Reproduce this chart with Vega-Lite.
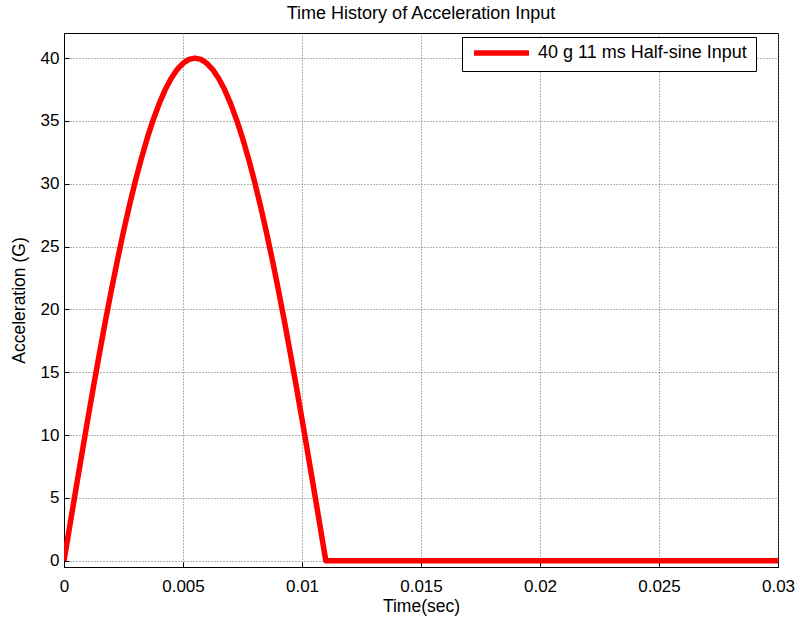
{
  "$schema": "https://vega.github.io/schema/vega-lite/v6.json",
  "width": 714,
  "height": 534,
  "autosize": {"type": "none"},
  "padding": {"left": 64, "top": 33, "right": 22, "bottom": 56},
  "background": "white",
  "title": {"text": "Time History of Acceleration Input", "font": "Liberation Sans", "fontSize": 18, "fontWeight": "normal", "color": "black", "offset": 10},
  "config": {
    "view": {"stroke": "black", "strokeWidth": 1},
    "axis": {"labelFont": "Liberation Sans", "titleFont": "Liberation Sans", "labelFontSize": 17, "titleFontSize": 17.5, "titleFontWeight": "normal", "labelColor": "black", "titleColor": "black", "domainColor": "black", "tickColor": "black", "gridColor": "#666", "gridDash": [1, 2], "gridOpacity": 1, "gridWidth": 1, "tickSize": -5}
  },
  "data": {"values": [
    {"t": 0, "a": 0, "s": "40 g 11 ms Half-sine Input"},
    {"t": 0.00025, "a": 2.855, "s": "40 g 11 ms Half-sine Input"},
    {"t": 0.0005, "a": 5.69, "s": "40 g 11 ms Half-sine Input"},
    {"t": 0.00075, "a": 8.5, "s": "40 g 11 ms Half-sine Input"},
    {"t": 0.001, "a": 11.27, "s": "40 g 11 ms Half-sine Input"},
    {"t": 0.00125, "a": 13.98, "s": "40 g 11 ms Half-sine Input"},
    {"t": 0.0015, "a": 16.62, "s": "40 g 11 ms Half-sine Input"},
    {"t": 0.00175, "a": 19.17, "s": "40 g 11 ms Half-sine Input"},
    {"t": 0.002, "a": 21.62, "s": "40 g 11 ms Half-sine Input"},
    {"t": 0.00225, "a": 23.97, "s": "40 g 11 ms Half-sine Input"},
    {"t": 0.0025, "a": 26.2, "s": "40 g 11 ms Half-sine Input"},
    {"t": 0.00275, "a": 28.28, "s": "40 g 11 ms Half-sine Input"},
    {"t": 0.003, "a": 30.23, "s": "40 g 11 ms Half-sine Input"},
    {"t": 0.00325, "a": 32.02, "s": "40 g 11 ms Half-sine Input"},
    {"t": 0.0035, "a": 33.65, "s": "40 g 11 ms Half-sine Input"},
    {"t": 0.00375, "a": 35.1, "s": "40 g 11 ms Half-sine Input"},
    {"t": 0.004, "a": 36.38, "s": "40 g 11 ms Half-sine Input"},
    {"t": 0.00425, "a": 37.48, "s": "40 g 11 ms Half-sine Input"},
    {"t": 0.0045, "a": 38.38, "s": "40 g 11 ms Half-sine Input"},
    {"t": 0.00475, "a": 39.09, "s": "40 g 11 ms Half-sine Input"},
    {"t": 0.005, "a": 39.59, "s": "40 g 11 ms Half-sine Input"},
    {"t": 0.00525, "a": 39.9, "s": "40 g 11 ms Half-sine Input"},
    {"t": 0.0055, "a": 40, "s": "40 g 11 ms Half-sine Input"},
    {"t": 0.00575, "a": 39.9, "s": "40 g 11 ms Half-sine Input"},
    {"t": 0.006, "a": 39.59, "s": "40 g 11 ms Half-sine Input"},
    {"t": 0.00625, "a": 39.09, "s": "40 g 11 ms Half-sine Input"},
    {"t": 0.0065, "a": 38.38, "s": "40 g 11 ms Half-sine Input"},
    {"t": 0.00675, "a": 37.48, "s": "40 g 11 ms Half-sine Input"},
    {"t": 0.007, "a": 36.38, "s": "40 g 11 ms Half-sine Input"},
    {"t": 0.00725, "a": 35.1, "s": "40 g 11 ms Half-sine Input"},
    {"t": 0.0075, "a": 33.65, "s": "40 g 11 ms Half-sine Input"},
    {"t": 0.00775, "a": 32.02, "s": "40 g 11 ms Half-sine Input"},
    {"t": 0.008, "a": 30.23, "s": "40 g 11 ms Half-sine Input"},
    {"t": 0.00825, "a": 28.28, "s": "40 g 11 ms Half-sine Input"},
    {"t": 0.0085, "a": 26.2, "s": "40 g 11 ms Half-sine Input"},
    {"t": 0.00875, "a": 23.97, "s": "40 g 11 ms Half-sine Input"},
    {"t": 0.009, "a": 21.62, "s": "40 g 11 ms Half-sine Input"},
    {"t": 0.00925, "a": 19.17, "s": "40 g 11 ms Half-sine Input"},
    {"t": 0.0095, "a": 16.62, "s": "40 g 11 ms Half-sine Input"},
    {"t": 0.00975, "a": 13.98, "s": "40 g 11 ms Half-sine Input"},
    {"t": 0.01, "a": 11.27, "s": "40 g 11 ms Half-sine Input"},
    {"t": 0.01025, "a": 8.5, "s": "40 g 11 ms Half-sine Input"},
    {"t": 0.0105, "a": 5.69, "s": "40 g 11 ms Half-sine Input"},
    {"t": 0.01075, "a": 2.855, "s": "40 g 11 ms Half-sine Input"},
    {"t": 0.011, "a": 0, "s": "40 g 11 ms Half-sine Input"},
    {"t": 0.015, "a": 0, "s": "40 g 11 ms Half-sine Input"},
    {"t": 0.02, "a": 0, "s": "40 g 11 ms Half-sine Input"},
    {"t": 0.025, "a": 0, "s": "40 g 11 ms Half-sine Input"},
    {"t": 0.03, "a": 0, "s": "40 g 11 ms Half-sine Input"}
  ]},
  "mark": {"type": "line", "strokeWidth": 5.5, "strokeCap": "butt", "strokeJoin": "round", "clip": true},
  "encoding": {
    "x": {"field": "t", "type": "quantitative", "scale": {"domain": [0, 0.03], "nice": false, "zero": false},
      "axis": {"title": "Time(sec)", "values": [0, 0.005, 0.01, 0.015, 0.02, 0.025, 0.03], "format": "~g", "labelPadding": 16, "titlePadding": 3, "labelFlush": false}},
    "y": {"field": "a", "type": "quantitative", "scale": {"domain": [-0.5, 42], "nice": false, "zero": false},
      "axis": {"title": "Acceleration (G)", "values": [0, 5, 10, 15, 20, 25, 30, 35, 40], "labelPadding": 10, "titlePadding": 12}},
    "color": {"field": "s", "type": "nominal", "scale": {"range": ["#ff0000"]},
      "legend": {"title": null, "orient": "none", "legendX": 398, "legendY": 4, "strokeColor": "black", "fillColor": "white", "padding": 9, "clipHeight": 14, "symbolType": "stroke", "symbolStrokeWidth": 5.5, "symbolSize": 3025, "labelOffset": 6, "labelFont": "Liberation Sans", "labelFontSize": 18, "labelColor": "black", "labelLimit": 400, "rowPadding": 0}}
  }
}
